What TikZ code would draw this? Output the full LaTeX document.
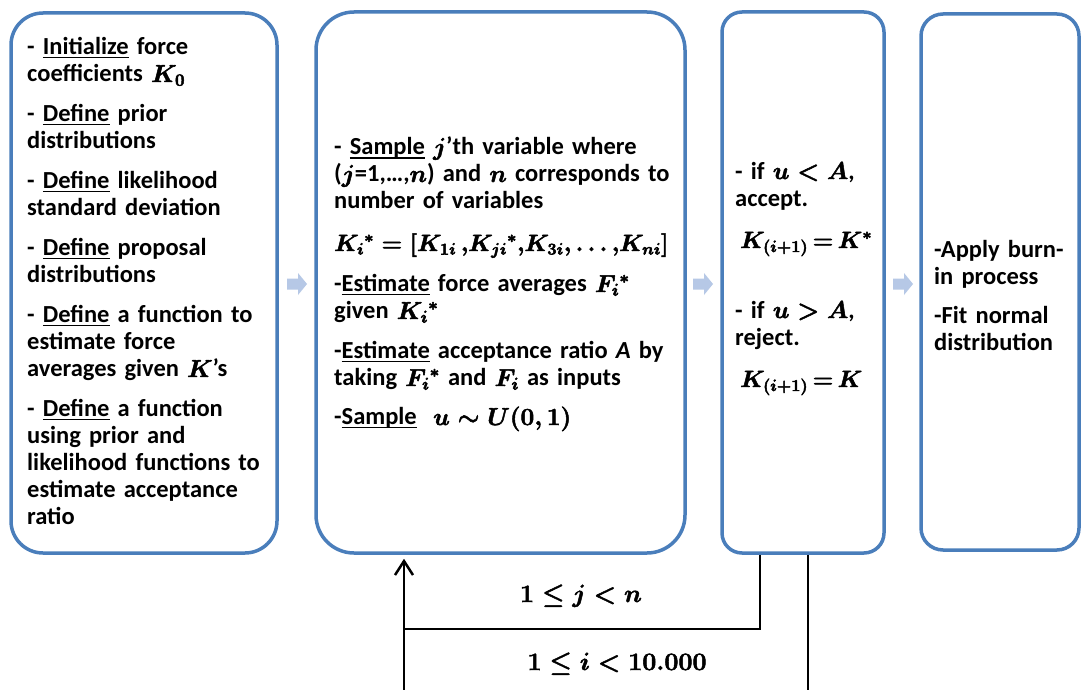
\RequirePackage{fix-cm}
\documentclass[tikz,border=0pt]{standalone}
\usepackage[no-math]{fontspec}
\setmainfont{Carlito}
\usetikzlibrary{arrows.meta}
\definecolor{boxblue}{RGB}{74,126,187}
\definecolor{chevc}{RGB}{182,200,230}
\newcommand\myul[1]{\setbox0\hbox{#1}\rlap{\rule[-3.5pt]{\wd0}{1.5pt}}\box0{}}
\newcommand\fbon{\special{pdf:code 2 Tr 0.5 w 0 G}}
\newcommand\fboff{\special{pdf:code 0 Tr}}
\newcommand\mth[1]{\mbox{\fbon\boldmath$#1$\fboff}}
\newcommand\smth[1]{\mbox{\fontsize{23.5}{27}\selectfont\fbon\boldmath$#1$\fboff}}
\begin{document}
\begin{tikzpicture}[x=1pt,y=-1pt,
  box/.style={draw=boxblue,line width=3.5pt,fill=white,inner sep=0pt},
  txt/.style={anchor=base west,inner sep=0pt,align=left,text width=#1,
    font=\fontsize{24.5}{27}\selectfont\bfseries},
  lab/.style={anchor=base,inner sep=0pt,font=\fontsize{25}{30}\selectfont},
  flow/.style={draw=black,line width=2.5pt},
  chev/.pic={\fill[chevc] (-10,-5.5) -- (1,-5.5) -- (1,-11) -- (10,0) -- (1,11) -- (1,5.5) -- (-10,5.5) -- cycle;}]
\useasboundingbox (0,0) rectangle (1082,690);
\fill[white] (0,0) rectangle (1082,690);
% boxes
\node[box,minimum width=266pt,minimum height=540pt,rounded corners=32pt] (b1) at (144,283) {};
\node[box,minimum width=369pt,minimum height=541pt,rounded corners=38pt] (b2) at (500.5,282.5) {};
\node[box,minimum width=162pt,minimum height=541pt,rounded corners=20pt] (b3) at (803,282.5) {};
\node[box,minimum width=158pt,minimum height=536pt,rounded corners=22pt] (b4) at (1000,282) {};
% texts
\node[txt=250pt] (t1) at (27,55) {%
- \myul{Initialize} force\\ coefficients \mth{K_0}\\[13pt]
- \myul{Define} prior\\ distributions\\[13pt]
- \myul{Define} likelihood\\ standard deviation\\[13pt]
- \myul{Define} proposal\\ distributions\\[13pt]
- \myul{Define} a function to\\ estimate force\\ averages given \mth{K}’s\\[13pt]
- \myul{Define} a function\\ using prior and\\ likelihood functions to\\ estimate acceptance\\ ratio};
\node[txt=345pt] (t2) at (334,155) {%
- \myul{Sample} \mth{j}'th variable where\\ (\mth{j}=1,…,\mth{n}) and \mth{n} corresponds to\\ number of variables\\[15pt]
\smth{K_i{}^*=[K_{1i}\,{,}K_{ji}{}^*{,}K_{3i}{,}\,{\ldots}\,{,}K_{ni}]}\\[14pt]
-\myul{Estimate} force averages \mth{F_i{}^*}\\ given \mth{K_i{}^*}\\[13pt]
-\myul{Estimate} acceptance ratio \textit{A} by\\ taking \mth{F_i{}^*}\ and \mth{F_i} as inputs\\[12pt]
-\myul{Sample}\ \ \mth{u\sim U(0,1)}};
\node[txt=150pt] (t3) at (735,179) {%
- if \mth{u<A},\\ accept.\\[15pt]
\hspace*{5pt}\smth{K_{(i+1)}\mskip-2mu=\mskip-2mu K^*}\\[43pt]
- if \mth{u>A},\\ reject.\\[15pt]
\hspace*{5pt}\smth{K_{(i+1)}\mskip-2mu=\mskip-2mu K}};
\node[txt=140pt] (t4) at (934,257) {%
-Apply burn-\\ in process\\[12pt]
-Fit normal\\ distribution};
% chevrons
\pic (c1) at (297,284) {chev};
\pic (c2) at (703,284) {chev};
\pic (c3) at (903,284) {chev};
% loops
\coordinate (jr) at (760,629);
\coordinate (jl) at (404,629);
\coordinate (ib) at (808,690);
\coordinate (il) at (404,690);
\draw[flow] (b3.south -| jr) -- (jr) -- (jl);
\draw[flow,-{Straight Barb[length=14pt,width=18pt]},shorten >=4pt] (il) -- (b2.south -| il);
\draw[flow] (b3.south -| ib) -- (ib);
\node[lab] (lj) at (581,602) {\mth{1\le j<n}};
\node[lab] (li) at (617,670) {\mth{1\le i<10.000}};
\end{tikzpicture}
\end{document}
